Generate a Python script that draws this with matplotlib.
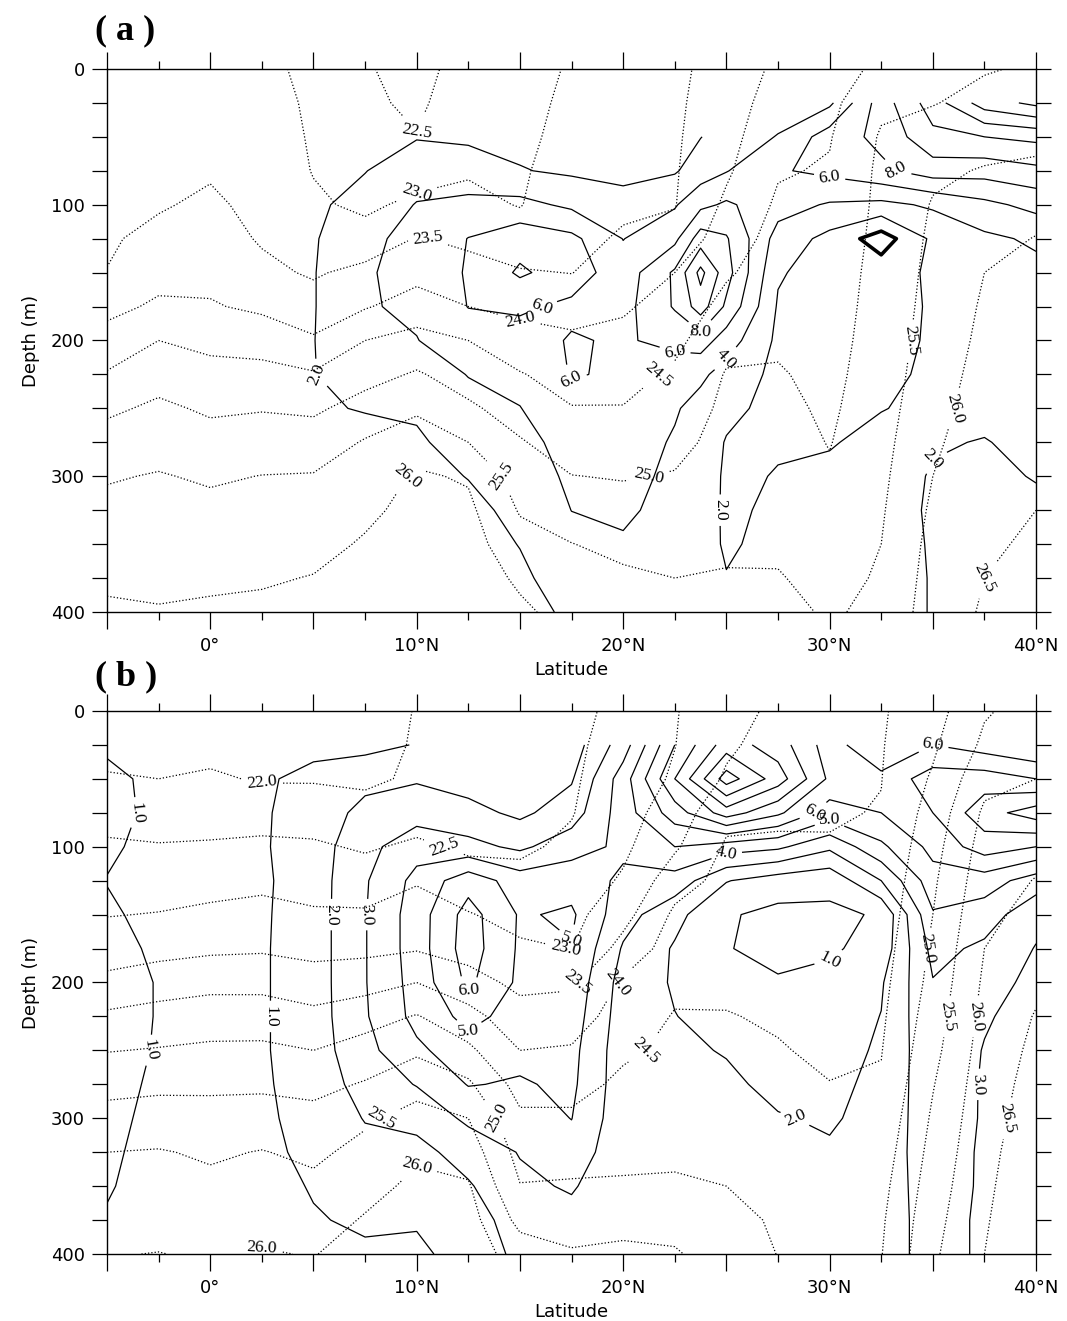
import numpy as np
import matplotlib.pyplot as plt
from matplotlib.ticker import MultipleLocator, FuncFormatter

nan = np.nan

# grid
depth = [0, 25, 50, 75, 100, 125, 150, 175, 200, 225, 250, 275, 300, 325, 350, 375, 400]
lat = [-5, -2.5, 0, 2.5, 5, 7.5, 10, 12.5, 15, 17.5, 20, 22.5, 25, 27.5, 30, 32.5, 35, 37.5, 40]
lat_sa = [-5, -2.5, 0, 2.5, 5, 7.5, 10, 12.5, 15, 17.5, 20, 22.5, 23.75, 25, 27.5, 30, 32.5, 35, 37.5, 40]

# (a) density, one list per latitude (surface -> 400 m)
sigma_a = [
    [23.2, 23.25, 23.3, 23.35, 23.4, 23.45, 23.51, 23.86, 24.19, 24.54, 24.91, 25.2, 25.46, 25.62, 25.77, 25.92, 26.07],
    [23.2, 23.27, 23.33, 23.4, 23.46, 23.61, 23.83, 24.08, 24.5, 24.81, 25.09, 25.32, 25.53, 25.66, 25.78, 25.9, 26.03],
    [23.2, 23.28, 23.36, 23.45, 23.58, 23.73, 23.87, 24.04, 24.37, 24.66, 24.93, 25.18, 25.44, 25.62, 25.77, 25.92, 26.07],
    [23.1, 23.17, 23.24, 23.3, 23.37, 23.45, 23.62, 23.91, 24.29, 24.66, 24.97, 25.25, 25.51, 25.66, 25.81, 25.95, 26.1],
    [22.9, 22.93, 22.95, 22.98, 23.07, 23.25, 23.44, 23.72, 24.06, 24.55, 24.92, 25.24, 25.53, 25.69, 25.85, 26.02, 26.15],
    [22.55, 22.6, 22.7, 22.8, 22.91, 23.17, 23.65, 23.96, 24.5, 24.83, 25.19, 25.54, 25.72, 25.9, 26.05, 26.2, 26.32],
    [22.3, 22.4, 22.52, 22.8, 23.11, 23.53, 23.84, 24.23, 24.67, 25.05, 25.42, 25.78, 26.06, 26.15, 26.25, 26.33, 26.4],
    [22.75, 22.82, 22.89, 22.96, 23.11, 23.39, 23.69, 24.0, 24.5, 24.78, 25.08, 25.5, 25.95, 26.1, 26.2, 26.3, 26.38],
    [22.8, 22.85, 22.89, 22.94, 22.98, 23.22, 23.54, 23.87, 24.2, 24.53, 24.79, 25.04, 25.25, 25.46, 25.68, 25.91, 26.1],
    [23.05, 23.1, 23.15, 23.22, 23.3, 23.4, 23.49, 23.8, 24.09, 24.3, 24.52, 24.76, 25.01, 25.26, 25.51, 25.65, 25.8],
    [23.2, 23.26, 23.32, 23.38, 23.44, 23.54, 23.74, 23.94, 24.13, 24.32, 24.52, 24.75, 24.97, 25.18, 25.38, 25.58, 25.7],
    [23.4, 23.42, 23.44, 23.46, 23.48, 23.64, 24.0, 24.19, 24.38, 24.58, 24.72, 24.86, 25.03, 25.19, 25.35, 25.5, 25.65],
    [23.7, 23.77, 23.84, 23.93, 24.09, 24.27, 24.44, 24.65, 24.87, 25.03, 25.1, 25.17, 25.24, 25.31, 25.41, 25.54, 25.65],
    [24.1, 24.22, 24.34, 24.46, 24.57, 24.66, 24.75, 24.84, 24.93, 25.04, 25.12, 25.2, 25.27, 25.35, 25.42, 25.53, 25.62],
    [24.3, 24.38, 24.47, 24.54, 24.6, 24.66, 24.72, 24.77, 24.82, 24.87, 24.92, 24.98, 25.06, 25.15, 25.25, 25.35, 25.45],
    [24.6, 24.9, 25.05, 25.1, 25.12, 25.15, 25.18, 25.2, 25.22, 25.25, 25.3, 25.35, 25.4, 25.45, 25.5, 25.55, 25.6],
    [24.9, 24.98, 25.2, 25.42, 25.53, 25.58, 25.62, 25.66, 25.71, 25.77, 25.84, 25.92, 26.0, 26.08, 26.15, 26.2, 26.25],
    [24.97, 25.13, 25.33, 25.53, 25.69, 25.84, 26.0, 26.06, 26.11, 26.17, 26.22, 26.28, 26.34, 26.39, 26.45, 26.5, 26.55],
    [25.05, 25.2, 25.38, 25.59, 25.81, 26.02, 26.07, 26.13, 26.2, 26.26, 26.32, 26.38, 26.44, 26.5, 26.55, 26.6, 26.65],
]

# (a) solid field (nan = mixed layer, not drawn)
stab_a = [
    [nan, nan, 1.0, 1.2, 1.3, 1.4, 1.4, 1.3, 1.2, 1.1, 1.0, 0.9, 0.8, 0.8, 0.7, 0.7, 0.6],
    [nan, nan, 1.0, 1.2, 1.4, 1.5, 1.5, 1.4, 1.3, 1.2, 1.0, 0.9, 0.8, 0.8, 0.7, 0.7, 0.6],
    [nan, nan, 1.0, 1.3, 1.5, 1.6, 1.6, 1.5, 1.4, 1.3, 1.1, 1.0, 0.9, 0.8, 0.7, 0.7, 0.6],
    [nan, nan, 1.1, 1.4, 1.6, 1.7, 1.7, 1.7, 1.6, 1.5, 1.3, 1.1, 1.0, 0.9, 0.8, 0.7, 0.7],
    [nan, nan, 1.2, 1.5, 1.7, 1.8, 1.9, 1.9, 1.95, 1.95, 1.9, 1.7, 1.5, 1.3, 1.1, 1.0, 0.9],
    [nan, nan, 1.6, 1.95, 2.6, 3.7, 3.85, 3.85, 3.6, 2.8, 2.05, 1.7, 1.5, 1.3, 1.1, 1.0, 0.9],
    [nan, nan, 1.9, 3.0, 4.1, 4.4, 4.5, 4.3, 3.95, 3.2, 2.2, 1.8, 1.5, 1.3, 1.1, 1.0, 0.9],
    [nan, nan, 1.8, 2.6, 4.6, 6.05, 6.2, 6.05, 5.0, 4.05, 3.5, 2.6, 2.05, 1.6, 1.3, 1.1, 1.0],
    [nan, nan, 1.5, 2.1, 4.6, 7.2, 8.3, 6.3, 5.2, 4.6, 3.95, 3.3, 2.8, 2.4, 2.05, 1.7, 1.4],
    [nan, nan, 1.3, 1.7, 3.6, 6.5, 7.0, 5.6, 6.15, 6.1, 5.4, 4.8, 4.4, 4.02, 3.4, 2.8, 2.3],
    [nan, nan, 1.2, 1.6, 2.5, 3.95, 4.9, 5.3, 5.8, 5.8, 5.3, 5.0, 4.6, 4.3, 3.8, 3.2, 2.6],
    [nan, nan, 1.3, 1.8, 3.8, 5.5, 8.3, 8.2, 6.5, 5.0, 4.2, 3.8, 3.6, 3.4, 3.2, 3.0, 2.8],
    [nan, nan, 1.95, 3.0, 5.5, 9.0, 12.6, 11.0, 7.0, 4.4, 3.3, 2.9, 2.7, 2.6, 2.5, 2.5, 2.6],
    [nan, nan, 2.8, 3.9, 6.3, 8.2, 8.8, 7.6, 5.0, 3.2, 2.4, 1.9, 1.8, 1.8, 1.85, 2.05, 2.3],
    [nan, 3.0, 4.1, 5.8, 4.8, 3.2, 2.2, 1.8, 1.6, 1.5, 1.5, 1.9, 2.05, 2.2, 2.35, 2.5, 2.7],
    [nan, 3.6, 7.0, 6.5, 3.8, 1.4, 1.1, 1.0, 1.1, 1.2, 1.4, 1.9, 2.3, 2.6, 2.7, 2.8, 2.9],
    [nan, 9.0, 8.5, 7.6, 3.5, -1.0, 1.1, 1.2, 1.4, 1.6, 1.95, 2.4, 2.6, 2.7, 2.8, 2.8, 2.8],
    [nan, 13.0, 11.5, 9.0, 4.3, 2.4, 2.3, 2.2, 2.2, 2.3, 2.3, 2.1, 1.9, 1.8, 1.85, 1.9, 1.9],
    [nan, 17.0, 12.0, 8.8, 5.5, 3.6, 3.2, 3.0, 2.8, 2.6, 2.3, 1.95, 1.8, 1.6, 1.5, 1.4, 1.3],
    [nan, 18.5, 12.5, 9.5, 6.6, 4.3, 3.5, 3.2, 3.0, 2.8, 2.6, 2.3, 2.05, 1.8, 1.6, 1.5, 1.4],
]

# (b) density
sigma_b = [
    [21.7, 21.85, 22.04, 22.32, 22.57, 22.77, 22.98, 23.27, 23.62, 24.09, 24.48, 24.84, 25.18, 25.5, 25.68, 25.85, 25.98],
    [21.7, 21.85, 22.0, 22.27, 22.53, 22.77, 23.02, 23.34, 23.76, 24.19, 24.53, 24.89, 25.23, 25.53, 25.69, 25.85, 26.01],
    [21.7, 21.86, 22.06, 22.3, 22.55, 22.82, 23.1, 23.41, 23.86, 24.25, 24.59, 24.91, 25.18, 25.44, 25.6, 25.78, 25.95],
    [21.7, 21.83, 21.96, 22.29, 22.6, 22.88, 23.16, 23.44, 23.86, 24.25, 24.6, 24.91, 25.23, 25.52, 25.69, 25.86, 26.03],
    [21.7, 21.83, 21.96, 22.26, 22.57, 22.81, 23.06, 23.36, 23.72, 24.13, 24.5, 24.86, 25.15, 25.4, 25.61, 25.79, 25.98],
    [21.8, 21.88, 21.94, 22.12, 22.44, 22.75, 23.06, 23.38, 23.81, 24.3, 24.7, 25.04, 25.42, 25.65, 25.85, 26.04, 26.2],
    [22.02, 22.03, 22.05, 22.26, 22.59, 22.96, 23.22, 23.46, 24.0, 24.53, 24.92, 25.33, 25.67, 25.93, 26.1, 26.22, 26.33],
    [22.14, 22.18, 22.24, 22.32, 22.42, 22.71, 23.03, 23.31, 23.69, 24.17, 24.6, 25.08, 25.5, 25.78, 26.05, 26.2, 26.3],
    [22.28, 22.32, 22.36, 22.4, 22.44, 22.6, 22.83, 23.08, 23.38, 23.69, 24.0, 24.31, 24.59, 24.82, 25.02, 25.36, 25.75],
    [22.41, 22.43, 22.45, 22.48, 22.57, 22.71, 22.85, 22.99, 23.42, 23.75, 24.05, 24.33, 24.58, 24.82, 25.05, 25.28, 25.55],
    [22.59, 22.65, 22.72, 22.8, 22.9, 23.06, 23.33, 23.67, 24.07, 24.24, 24.42, 24.6, 24.74, 24.89, 25.05, 25.35, 25.6],
    [22.97, 22.99, 23.06, 23.24, 23.43, 23.79, 24.09, 24.24, 24.39, 24.53, 24.6, 24.72, 24.82, 24.93, 25.05, 25.32, 25.55],
    [23.32, 23.42, 23.56, 23.86, 24.06, 24.15, 24.24, 24.32, 24.41, 24.52, 24.62, 24.72, 24.81, 24.9, 25.0, 25.12, 25.25],
    [23.6, 23.7, 23.8, 23.94, 24.05, 24.16, 24.22, 24.29, 24.37, 24.45, 24.53, 24.63, 24.72, 24.8, 24.88, 24.95, 24.99],
    [23.8, 23.85, 23.9, 23.96, 24.03, 24.1, 24.16, 24.22, 24.28, 24.35, 24.42, 24.51, 24.6, 24.68, 24.76, 24.83, 24.9],
    [23.95, 23.97, 23.99, 24.02, 24.08, 24.15, 24.22, 24.29, 24.36, 24.42, 24.48, 24.55, 24.65, 24.75, 24.85, 24.93, 24.98],
    [24.3, 24.42, 24.56, 24.7, 24.82, 24.92, 25.0, 25.08, 25.15, 25.25, 25.35, 25.47, 25.57, 25.66, 25.75, 25.84, 25.92],
    [24.95, 25.1, 25.35, 25.58, 25.7, 25.8, 25.9, 26.0, 26.08, 26.15, 26.22, 26.28, 26.33, 26.38, 26.42, 26.46, 26.5],
    [25.2, 25.35, 25.5, 25.67, 25.85, 26.02, 26.13, 26.25, 26.4, 26.53, 26.6, 26.66, 26.71, 26.76, 26.8, 26.84, 26.88],
]

# (b) solid field
stab_b = [
    [nan, 0.9, 1.15, 1.2, 1.1, 0.98, 1.1, 1.2, 1.25, 1.25, 1.25, 1.2, 1.15, 1.1, 1.05, 0.95, 0.9],
    [nan, 0.7, 0.85, 0.85, 0.8, 0.75, 0.8, 0.9, 0.97, 0.97, 0.95, 0.9, 0.85, 0.8, 0.75, 0.7, 0.7],
    [nan, 0.7, 0.8, 0.8, 0.8, 0.8, 0.8, 0.85, 0.85, 0.85, 0.85, 0.8, 0.8, 0.75, 0.7, 0.7, 0.65],
    [nan, 0.75, 0.9, 0.9, 0.9, 0.85, 0.88, 0.9, 0.9, 0.9, 0.9, 0.88, 0.85, 0.8, 0.75, 0.72, 0.7],
    [nan, 0.8, 1.2, 1.4, 1.5, 1.5, 1.5, 1.5, 1.5, 1.5, 1.5, 1.4, 1.3, 1.2, 1.05, 0.95, 0.85],
    [nan, 0.7, 1.7, 2.3, 2.7, 2.9, 2.95, 2.95, 2.95, 2.9, 2.7, 2.4, 2.05, 1.7, 1.4, 1.1, 0.9],
    [nan, 1.05, 1.9, 2.6, 3.6, 4.3, 4.5, 4.5, 4.4, 4.3, 3.8, 3.05, 2.3, 1.7, 1.3, 1.05, 0.9],
    [nan, 1.05, 1.6, 2.3, 3.3, 5.6, 6.4, 6.5, 6.2, 5.3, 4.6, 4.05, 3.2, 2.4, 1.9, 1.5, 1.2],
    [nan, 1.05, 1.5, 1.8, 2.8, 4.5, 4.9, 4.85, 4.8, 4.6, 4.3, 3.9, 3.5, 3.05, 2.8, 2.5, 2.3],
    [nan, 1.5, 1.9, 2.5, 3.6, 4.6, 5.15, 4.95, 4.7, 4.5, 4.3, 4.2, 4.02, 3.6, 3.1, 2.7, 2.3],
    [nan, 3.5, 4.5, 4.5, 4.2, 3.8, 3.4, 2.9, 2.6, 2.5, 2.4, 2.4, 2.35, 2.3, 2.3, 2.3, 2.3],
    [nan, 7.0, 8.0, 6.5, 5.0, 3.6, 2.3, 1.9, 1.9, 2.02, 2.15, 2.25, 2.3, 2.35, 2.35, 2.35, 2.3],
    [nan, 9.5, 11.5, 8.5, 4.5, 2.05, 1.1, 1.05, 1.3, 1.7, 1.95, 2.15, 2.35, 2.4, 2.5, 2.5, 2.5],
    [nan, 8.5, 9.5, 7.2, 4.2, 1.5, 0.75, 0.7, 1.1, 1.4, 1.6, 1.8, 2.05, 2.3, 2.5, 2.55, 2.55],
    [nan, 6.5, 6.8, 5.5, 3.2, 1.3, 0.8, 0.85, 1.3, 1.5, 1.7, 1.8, 1.9, 2.1, 2.4, 2.5, 2.5],
    [nan, 5.0, 6.3, 6.0, 4.8, 3.0, 1.1, 1.4, 1.9, 2.02, 2.1, 2.2, 2.3, 2.4, 2.4, 2.4, 2.4],
    [nan, 6.0, 7.5, 7.0, 6.3, 5.6, 4.9, 4.3, 3.95, 3.85, 3.75, 3.7, 3.65, 3.6, 3.55, 3.5, 3.5],
    [nan, 5.5, 7.5, 8.6, 7.5, 5.5, 4.5, 3.8, 3.3, 3.1, 2.95, 2.9, 2.9, 2.85, 2.85, 2.8, 2.8],
    [nan, 5.0, 7.0, 9.5, 7.0, 4.5, 3.3, 2.95, 2.8, 2.6, 2.5, 2.5, 2.4, 2.3, 2.2, 2.15, 2.1],
]

sigma_levels_a = np.arange(22.5, 26.6, 0.5)
sigma_levels_b = np.arange(22.0, 26.6, 0.5)
stab_levels_a = np.arange(2, 19, 2)
stab_levels_b = np.arange(1, 12, 1)
stab_labels_a = [2, 4, 6, 8]
stab_labels_b = [1, 2, 3, 4, 5, 6]

label_font = 'Liberation Serif'
tick_font = 'DejaVu Sans'


def lat_fmt(v, pos):
    v = int(round(v))
    if v == 0:
        return '0°'
    if v > 0 and v % 10 == 0:
        return f'{v}°N'
    return ''


def draw_panel(ax, sig, sig_levels, stab, stab_lat, stab_levels, stab_labels, thick=None):
    sig_z = np.array(sig).T
    stab_z = np.ma.masked_invalid(np.array(stab, dtype=float).T)

    cs1 = ax.contour(lat, depth, sig_z, levels=sig_levels, colors='k',
                     linestyles=':', linewidths=0.9)
    t1 = ax.clabel(cs1, fmt='%.1f', fontsize=12.5, inline_spacing=2)
    cs2 = ax.contour(stab_lat, depth, stab_z, levels=stab_levels, colors='k',
                     linestyles='-', linewidths=0.9)
    t2 = ax.clabel(cs2, levels=stab_labels, fmt='%.1f', fontsize=12.5, inline_spacing=2)
    for t in list(t1) + list(t2):
        t.set_fontfamily(label_font)
    if thick is not None:
        ax.contour(stab_lat, depth, stab_z, levels=thick, colors='k',
                   linestyles='-', linewidths=2.6)

    ax.set_xlim(-5, 40)
    ax.set_ylim(400, 0)
    ax.xaxis.set_major_locator(MultipleLocator(5))
    ax.xaxis.set_minor_locator(MultipleLocator(2.5))
    ax.xaxis.set_major_formatter(FuncFormatter(lat_fmt))
    ax.yaxis.set_major_locator(MultipleLocator(100))
    ax.yaxis.set_minor_locator(MultipleLocator(25))
    ax.tick_params(which='both', direction='out', top=True, right=True,
                   labeltop=False, labelright=False, width=0.9)
    ax.tick_params(axis='x', which='major', length=12, pad=6)
    ax.tick_params(axis='x', which='minor', length=6)
    ax.tick_params(axis='y', which='both', length=11, pad=5)
    for lab in ax.get_xticklabels() + ax.get_yticklabels():
        lab.set_fontfamily(tick_font)
        lab.set_fontsize(13)
    for sp in ax.spines.values():
        sp.set_linewidth(1.0)
    ax.set_xlabel('Latitude', fontsize=13, family=tick_font, labelpad=4)
    ax.set_ylabel('Depth (m)', fontsize=13, family=tick_font, labelpad=8)


fig = plt.figure(figsize=(10.67, 13.21), dpi=100)
ax_a = fig.add_axes([0.1003, 0.5367, 0.8707, 0.4111])
ax_b = fig.add_axes([0.1003, 0.0507, 0.8707, 0.4111])

draw_panel(ax_a, sigma_a, sigma_levels_a, stab_a, lat_sa, stab_levels_a, stab_labels_a, thick=[0])
draw_panel(ax_b, sigma_b, sigma_levels_b, stab_b, lat, stab_levels_b, stab_labels_b)

fig.text(0.089, 0.9765, '( a )', fontsize=26, fontweight='bold',
         family='Liberation Serif', ha='left', va='center')
fig.text(0.089, 0.4875, '( b )', fontsize=26, fontweight='bold',
         family='Liberation Serif', ha='left', va='center')

fig.savefig('out.png', dpi=100)
